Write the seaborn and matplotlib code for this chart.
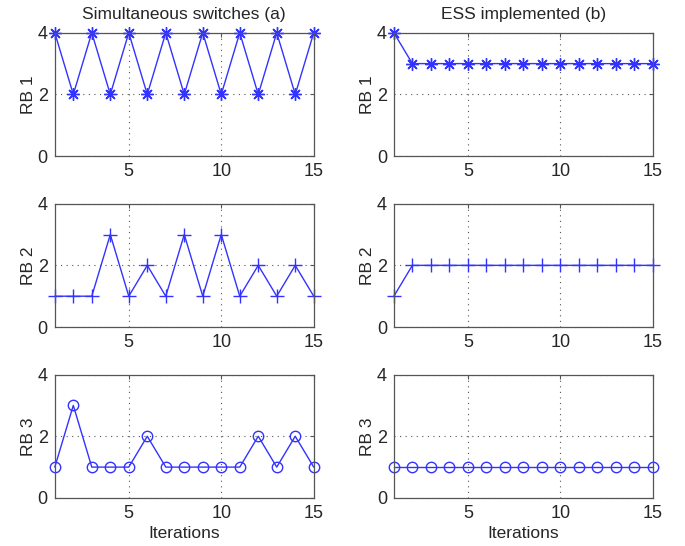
import numpy as np
import pandas as pd
import matplotlib
matplotlib.use("Agg")
import matplotlib.pyplot as plt
import seaborn as sns

# iteration index
iterations = list(range(1, 16))

# (a) simultaneous switches
sim_rb1 = [4, 2, 4, 2, 4, 2, 4, 2, 4, 2, 4, 2, 4, 2, 4]
sim_rb2 = [1, 1, 1, 3, 1, 2, 1, 3, 1, 3, 1, 2, 1, 2, 1]
sim_rb3 = [1, 3, 1, 1, 1, 2, 1, 1, 1, 1, 1, 2, 1, 2, 1]

# (b) ESS implemented
ess_rb1 = [4, 3, 3, 3, 3, 3, 3, 3, 3, 3, 3, 3, 3, 3, 3]
ess_rb2 = [1, 2, 2, 2, 2, 2, 2, 2, 2, 2, 2, 2, 2, 2, 2]
ess_rb3 = [1, 1, 1, 1, 1, 1, 1, 1, 1, 1, 1, 1, 1, 1, 1]

row_labels = ["RB 1", "RB 2", "RB 3"]
col_titles = ["Simultaneous switches (a)", "ESS implemented (b)"]

sns.set_style("white")
plt.rcParams['font.family'] = ['Liberation Sans', 'DejaVu Sans']

fig = plt.figure(figsize=(6.85, 5.46), dpi=100)

col_x = [0.080, 0.575]
col_w = 0.378
row_y = [0.714, 0.401, 0.088]
row_h = 0.226

series = [[sim_rb1, ess_rb1], [sim_rb2, ess_rb2], [sim_rb3, ess_rb3]]
marker_styles = [
    dict(marker=(8, 2, 0), markersize=9, markeredgewidth=1.0),
    dict(marker="+", markersize=10, markeredgewidth=1.0),
    dict(marker="o", markersize=7.5, markeredgewidth=1.0, markerfacecolor="none"),
]
blue = (0.2, 0.2, 1.0)

for r in range(3):
    for c in range(2):
        ax = fig.add_axes([col_x[c], row_y[r], col_w, row_h])
        df = pd.DataFrame({"it": iterations, "val": series[r][c]})
        sns.lineplot(data=df, x="it", y="val", ax=ax, color=blue,
                     linewidth=1.0, markeredgecolor=blue, clip_on=False,
                     **marker_styles[r])
        ax.set_xlim(1, 15)
        ax.set_ylim(0, 4)
        ax.set_xticks([5, 10, 15])
        ax.set_yticks([0, 2, 4])
        ax.grid(True, linestyle=(0, (1, 4)), color="#555555", linewidth=0.8)
        ax.tick_params(direction="in", labelsize=13, length=3, color="#555555",
                       top=True, right=True, pad=5)
        for s in ax.spines.values():
            s.set_color("#555555")
            s.set_linewidth(0.9)
        ax.set_ylabel(row_labels[r], fontsize=12.5, labelpad=1)
        ax.set_xlabel("Iterations" if r == 2 else "", fontsize=12.5, labelpad=3)
        if r == 0:
            ax.set_title(col_titles[c], fontsize=12.5, pad=10)

fig.savefig("out.png", dpi=100)
